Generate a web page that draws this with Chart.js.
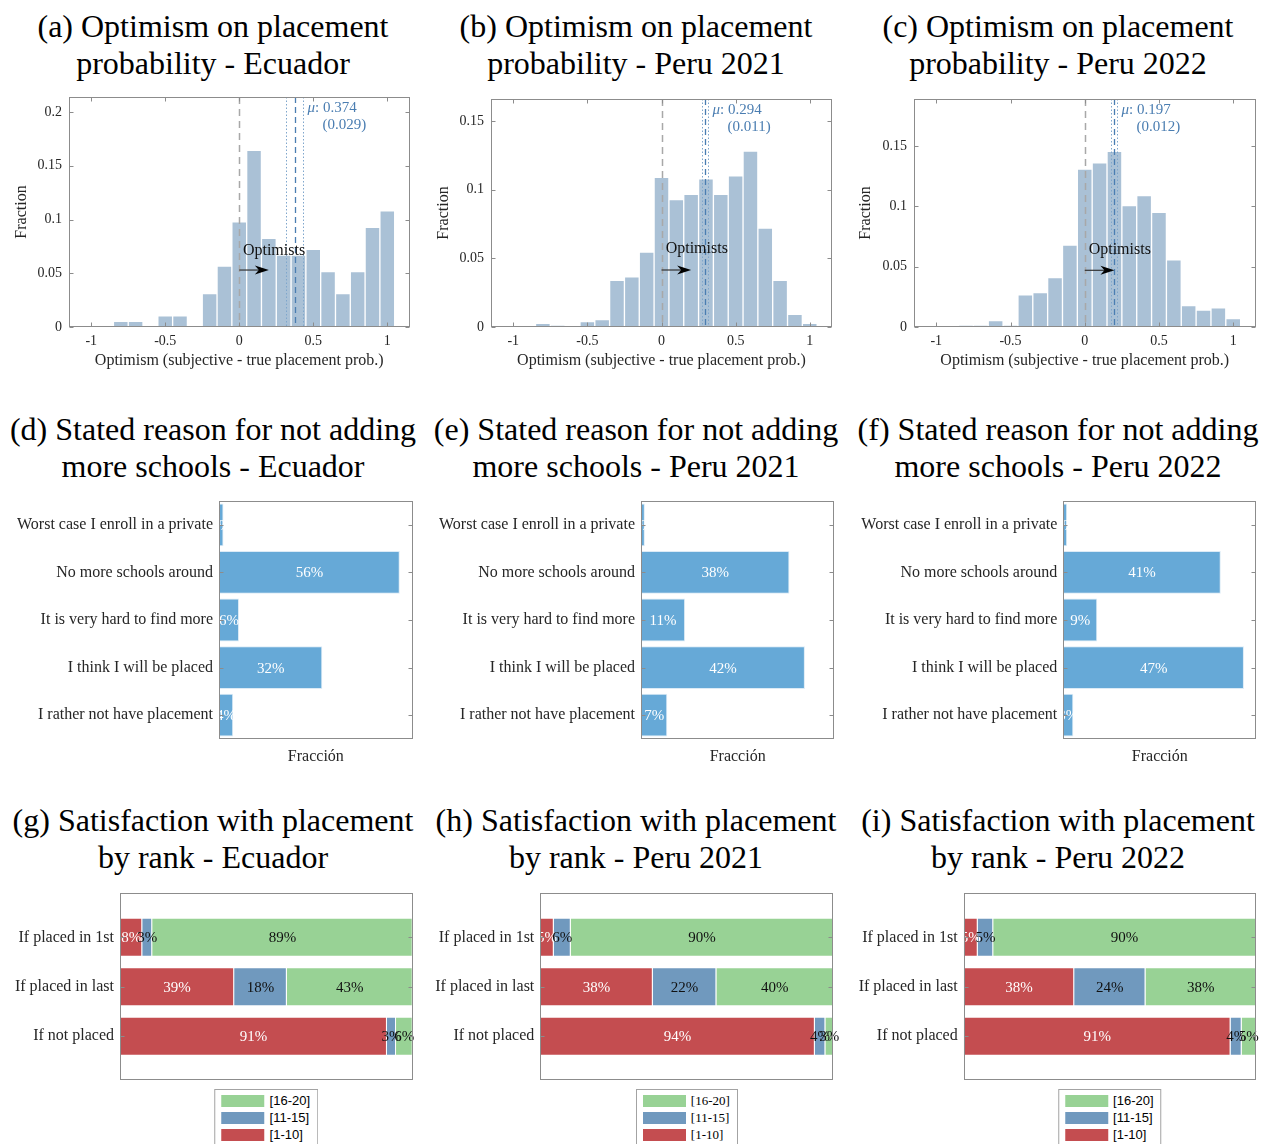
<!DOCTYPE html>
<html>
<head>
<meta charset="utf-8">
<script src="https://cdn.jsdelivr.net/npm/chart.js@4.4.1/dist/chart.umd.min.js"></script>
<style>
  body { margin: 0; width: 1265px; height: 1144px; overflow: hidden; background: #fff; position: relative;
         font-family: 'Liberation Serif', serif; }
  .title { position: absolute; width: 422px; text-align: center; font-size: 32px; line-height: 36.5px;
           color: #000; white-space: nowrap; }
  .panel { position: absolute; }
  .panel canvas { display: block; }
  .legend { position: absolute; top: 209px; border: 1px solid #a3a3a3; background: #fff;
            padding: 2px 7px 4px 6px; font-size: 13px; color: #000; transform: translateX(-50%); }
  .legend .row { display: flex; align-items: center; height: 17px; }
  .legend .sw { width: 43px; height: 12px; margin-right: 5px; }
</style>
</head>
<body>
<script>
// ---- data ----
const binCenters = [-1.0, -0.9, -0.8, -0.7, -0.6, -0.5, -0.4, -0.3, -0.2, -0.1, 0.0,
                    0.1, 0.2, 0.3, 0.4, 0.5, 0.6, 0.7, 0.8, 0.9, 1.0];
const fracEcuador = [0, 0, 0.0053, 0.0053, 0, 0.0103, 0.0103, 0, 0.031, 0.0567, 0.0979,
                     0.1644, 0.0825, 0.067, 0.067, 0.0722, 0.0515, 0.031, 0.0515, 0.0928, 0.1082];
const fracPeru2021 = [0, 0, 0.0027, 0.0012, 0, 0.0039, 0.0054, 0.034, 0.0366, 0.0546, 0.109,
                      0.0927, 0.0966, 0.1078, 0.0966, 0.110, 0.128, 0.072, 0.034, 0.0093, 0.0027];
const fracPeru2022 = [0, 0, 0.0014, 0.0014, 0.0053, 0.0014, 0.0267, 0.0286, 0.041, 0.068, 0.131,
                      0.136, 0.1456, 0.1006, 0.109, 0.095, 0.0556, 0.0178, 0.014, 0.0158, 0.0069];
const meanOptimism = [0.374, 0.294, 0.197];
const seOptimism = [0.029, 0.011, 0.012];
const histXTicks = [-1, -0.5, 0, 0.5, 1];
const histYTicks = [[0, 0.05, 0.1, 0.15, 0.2], [0, 0.05, 0.1, 0.15], [0, 0.05, 0.1, 0.15]];
const histYMax = [0.214, 0.166, 0.189];

const reasonLabels = ['Worst case I enroll in a private', 'No more schools around',
                      'It is very hard to find more', 'I think I will be placed', 'I rather not have placement'];
const reasonEcuador = [0.014, 0.56, 0.062, 0.32, 0.044];
const reasonPeru2021 = [0.010, 0.384, 0.114, 0.424, 0.068];
const reasonPeru2022 = [0.010, 0.408, 0.088, 0.468, 0.026];
const reasonXMax = [0.6, 0.5, 0.5];

const rankLabels = ['If placed in 1st', 'If placed in last', 'If not placed'];
const rankGroups = ['[1-10]', '[11-15]', '[16-20]'];
const sat1to10 = [[0.076, 0.39, 0.912], [0.046, 0.384, 0.937], [0.048, 0.378, 0.913]];
const sat11to15 = [[0.034, 0.18, 0.031], [0.058, 0.217, 0.036], [0.053, 0.244, 0.038]];
const sat16to20 = [[0.89, 0.43, 0.057], [0.896, 0.399, 0.027], [0.899, 0.378, 0.049]];

const places = ['Ecuador', 'Peru 2021', 'Peru 2022'];

// ---- layout ----
Chart.defaults.font.family = "'Liberation Serif', serif";
Chart.defaults.color = '#262626';
Chart.defaults.animation = false;

const COLS = [0, 422, 844];
const titleCenters = [213, 636, 1058];

function addTitle(col, top, l1, l2) {
  const d = document.createElement('div');
  d.className = 'title';
  d.style.left = (titleCenters[col] - 211) + 'px';
  d.style.top = top + 'px';
  d.innerHTML = l1 + '<br>' + l2;
  document.body.appendChild(d);
}

function addPanel(col, top, h) {
  const div = document.createElement('div');
  div.className = 'panel';
  div.style.left = COLS[col] + 'px';
  div.style.top = top + 'px';
  const c = document.createElement('canvas');
  c.width = 422; c.height = h;
  div.appendChild(c);
  document.body.appendChild(div);
  return { div, canvas: c };
}

// fixed axis sizes so the plot boxes line up with the figure
const fixWidth = w => s => { s.width = w; s.paddingTop = 0; s.paddingBottom = 0; };
const fixHeight = h => s => { s.height = h; s.paddingLeft = 0; s.paddingRight = 0; };

// box round the axes with inward ticks
const frame = {
  id: 'frame',
  afterDraw(chart, args, opts) {
    const { ctx, chartArea: a } = chart;
    const L = 4;
    ctx.save();
    ctx.strokeStyle = '#8c8c8c';
    ctx.lineWidth = 1;
    const l = Math.round(a.left) + 0.5, r = Math.round(a.right) - 0.5;
    const t = Math.round(a.top) + 0.5, b = Math.round(a.bottom) - 0.5;
    ctx.strokeRect(l, t, r - l, b - t);
    const seg = (x1, y1, x2, y2) => { ctx.beginPath(); ctx.moveTo(x1, y1); ctx.lineTo(x2, y2); ctx.stroke(); };
    if (opts.xTicks) {
      const s = chart.scales.x;
      s.ticks.forEach((tk, i) => {
        const p = Math.round(s.getPixelForTick(i)) + 0.5;
        seg(p, b, p, b - L); seg(p, t, p, t + L);
      });
    }
    if (opts.yTicks) {
      const s = chart.scales.y;
      s.ticks.forEach((tk, i) => {
        const p = Math.round(s.getPixelForTick(i)) + 0.5;
        seg(l, p, l + L, p); seg(r, p, r - L, p);
      });
    }
    ctx.restore();
  }
};

// mean lines, mu text and the "Optimists" arrow
const histNotes = {
  id: 'histNotes',
  afterDatasetsDraw(chart, args, o) {
    const { ctx, chartArea: a, scales: { x, y } } = chart;
    const vline = (v, color, dash, w) => {
      const p = Math.round(x.getPixelForValue(v)) + 0.5;
      ctx.save();
      ctx.strokeStyle = color; ctx.lineWidth = w; ctx.setLineDash(dash);
      ctx.beginPath(); ctx.moveTo(p, a.top); ctx.lineTo(p, a.bottom); ctx.stroke();
      ctx.restore();
      return p;
    };
    vline(0, '#a8a8a8', [7, 5], 1.5);
    const lo = o.mean - 1.96 * o.se, hi = o.mean + 1.96 * o.se;
    vline(lo, '#7fa6cc', [1.5, 2], 1);
    const pHi = vline(hi, '#7fa6cc', [1.5, 2], 1);
    vline(o.mean, '#4a7db1', [6, 4], 1.3);

    ctx.save();
    ctx.fillStyle = '#4a7db1';
    ctx.textBaseline = 'middle';
    ctx.textAlign = 'left';
    const tx = pHi + 4;
    ctx.font = "italic 15px 'Liberation Serif', serif";
    ctx.fillText('\u03bc', tx, a.top + 11);
    const w = ctx.measureText('\u03bc').width;
    ctx.font = "15px 'Liberation Serif', serif";
    ctx.fillText(': ' + o.mean.toFixed(3), tx + w, a.top + 11);
    ctx.fillText('(' + o.se.toFixed(3) + ')', tx + 15, a.top + 28);

    // Optimists
    ctx.fillStyle = '#111';
    ctx.textAlign = 'center';
    ctx.font = "16px 'Liberation Serif', serif";
    ctx.fillText('Optimists', x.getPixelForValue(o.textX), y.getPixelForValue(o.textY));
    const ax0 = x.getPixelForValue(0), ax1 = x.getPixelForValue(0.2), ay = y.getPixelForValue(o.arrowY);
    ctx.strokeStyle = '#333'; ctx.lineWidth = 1.2;
    ctx.beginPath(); ctx.moveTo(ax0, ay); ctx.lineTo(ax1 - 8, ay); ctx.stroke();
    ctx.fillStyle = '#000';
    ctx.beginPath();
    ctx.moveTo(ax1, ay);
    ctx.lineTo(ax1 - 14, ay - 4.5);
    ctx.lineTo(ax1 - 10, ay);
    ctx.lineTo(ax1 - 14, ay + 4.5);
    ctx.closePath(); ctx.fill();
    ctx.restore();
  }
};

// percentage labels inside bars
const barLabels = {
  id: 'barLabels',
  afterDatasetsDraw(chart, args, o) {
    const { ctx } = chart;
    ctx.save();
    ctx.font = "15px 'Liberation Serif', serif";
    ctx.textAlign = 'center';
    ctx.textBaseline = 'middle';
    chart.data.datasets.forEach((ds, di) => {
      chart.getDatasetMeta(di).data.forEach((el, i) => {
        const raw = ds.data[i];
        const v = typeof raw === 'object' ? raw.x : raw;
        const { x, y, base } = el.getProps(['x', 'y', 'base'], true);
        ctx.fillStyle = o.colors[di];
        ctx.fillText(Math.round(v * 100) + '%', (x + base) / 2, y + 1);
      });
    });
    ctx.restore();
  }
};

// boxed legend in one column below the plot
const htmlLegend = {
  id: 'htmlLegend',
  afterUpdate(chart, args, o) {
    const box = o.box;
    box.innerHTML = '';
    box.style.fontFamily = o.family;
    const items = chart.options.plugins.legend.labels.generateLabels(chart).reverse();
    items.forEach(it => {
      const row = document.createElement('div');
      row.className = 'row';
      const sw = document.createElement('span');
      sw.className = 'sw';
      sw.style.background = it.fillStyle;
      const tx = document.createElement('span');
      tx.textContent = it.text;
      row.appendChild(sw); row.appendChild(tx);
      box.appendChild(row);
    });
    box.style.left = ((chart.chartArea.left + chart.chartArea.right) / 2) + 'px';
  }
};

const noGrid = { display: false, drawTicks: false };

// ---- row 1: optimism histograms ----
const histFrac = [fracEcuador, fracPeru2021, fracPeru2022];
const histGeom = [{ top: 7, left: 69, right: 12.5 }, { top: 9, left: 69, right: 12 }, { top: 9, left: 70, right: 10.5 }];
const optimistsPos = [{ textX: 0.235, textY: 0.071, arrowY: 0.053 },
                      { textX: 0.238, textY: 0.057, arrowY: 0.0415 },
                      { textX: 0.236, textY: 0.064, arrowY: 0.047 }];
const letters = ['abc', 'def', 'ghi'];

for (let k = 0; k < 3; k++) {
  addTitle(k, 8, '(' + letters[0][k] + ') Optimism on placement', 'probability - ' + places[k]);
  const g = histGeom[k];
  const p = addPanel(k, 90, 285);
  new Chart(p.canvas, {
    type: 'bar',
    data: {
      datasets: [{
        data: binCenters.map((c, i) => ({ x: c, y: histFrac[k][i] })),
        backgroundColor: '#aac1d6',
        borderColor: 'rgba(255,255,255,0.45)',
        borderWidth: 1,
        barPercentage: 1,
        categoryPercentage: 1
      }]
    },
    options: {
      responsive: false,
      layout: { padding: { top: g.top, right: g.right, left: 0, bottom: 0 } },
      plugins: {
        legend: { display: false },
        tooltip: { enabled: false },
        frame: { xTicks: true, yTicks: true },
        histNotes: Object.assign({ mean: meanOptimism[k], se: seOptimism[k] }, optimistsPos[k])
      },
      scales: {
        x: {
          type: 'linear', offset: false, min: -1.15, max: 1.15,
          grid: noGrid, border: { display: false },
          afterBuildTicks: s => { s.ticks = histXTicks.map(v => ({ value: v })); },
          afterFit: fixHeight(48),
          ticks: { padding: 6, maxRotation: 0, font: { size: 14 }, callback: v => String(v) },
          title: { display: true, text: 'Optimism (subjective - true placement prob.)',
                   font: { size: 16 }, padding: { top: 0, bottom: 5 } }
        },
        y: {
          min: 0, max: histYMax[k],
          grid: noGrid, border: { display: false },
          afterBuildTicks: s => { s.ticks = histYTicks[k].map(v => ({ value: v })); },
          afterFit: fixWidth(g.left),
          ticks: { padding: 7, font: { size: 14 }, callback: v => String(v) },
          title: { display: true, text: 'Fraction', font: { size: 16 }, padding: { top: 12, bottom: 0 } }
        }
      }
    },
    plugins: [frame, histNotes]
  });
}

// ---- row 2: stated reasons ----
const reasonVals = [reasonEcuador, reasonPeru2021, reasonPeru2022];
const reasonGeom = [{ left: 219, right: 9.3 }, { left: 219, right: 9.7 }, { left: 219.3, right: 9.7 }];

for (let k = 0; k < 3; k++) {
  addTitle(k, 411, '(' + letters[1][k] + ') Stated reason for not adding', 'more schools - ' + places[k]);
  const g = reasonGeom[k];
  const p = addPanel(k, 490, 280);
  new Chart(p.canvas, {
    type: 'bar',
    data: {
      labels: reasonLabels,
      datasets: [{
        data: reasonVals[k],
        backgroundColor: '#66a9d7',
        borderColor: '#dcebf6',
        borderWidth: 1,
        barPercentage: 0.9,
        categoryPercentage: 1
      }]
    },
    options: {
      indexAxis: 'y',
      responsive: false,
      layout: { padding: { top: 11, right: g.right, left: 0, bottom: 0 } },
      plugins: {
        legend: { display: false },
        tooltip: { enabled: false },
        frame: { xTicks: false, yTicks: true },
        barLabels: { colors: ['#ffffff'] }
      },
      scales: {
        x: {
          min: 0, max: reasonXMax[k],
          grid: noGrid, border: { display: false },
          ticks: { display: false },
          afterFit: fixHeight(31),
          title: { display: true, text: 'Fracción', font: { size: 16 }, padding: { top: 0, bottom: 4 } }
        },
        y: {
          grid: noGrid, border: { display: false },
          afterFit: fixWidth(g.left),
          ticks: { padding: 6, autoSkip: false, font: { size: 16 } }
        }
      }
    },
    plugins: [frame, barLabels]
  });
}

// ---- row 3: satisfaction by rank ----
const satGeom = [{ left: 120, right: 9.3 }, { left: 118.3, right: 10.7 }, { left: 119.7, right: 10 }];
const satColors = ['#c44d50', '#7099be', '#98d295'];
const legendFonts = ["'Liberation Sans', sans-serif", "'Liberation Serif', serif", "'Liberation Sans', sans-serif"];

for (let k = 0; k < 3; k++) {
  addTitle(k, 802, '(' + letters[2][k] + ') Satisfaction with placement', 'by rank - ' + places[k]);
  const g = satGeom[k];
  const p = addPanel(k, 880, 264);
  const lg = document.createElement('div');
  lg.className = 'legend';
  p.div.appendChild(lg);
  const series = [sat1to10[k], sat11to15[k], sat16to20[k]];
  new Chart(p.canvas, {
    type: 'bar',
    data: {
      datasets: series.map((vals, j) => ({
        label: rankGroups[j],
        data: vals.map((v, i) => ({ x: v, y: i + 1 })),
        backgroundColor: satColors[j],
        borderColor: 'rgba(255,255,255,0.35)',
        borderWidth: 1,
        stack: 'all',
        barPercentage: 0.79,
        categoryPercentage: 1
      }))
    },
    options: {
      indexAxis: 'y',
      responsive: false,
      layout: { padding: { top: 13.3, right: g.right, left: 0, bottom: 63.7 } },
      plugins: {
        legend: { display: false },
        tooltip: { enabled: false },
        frame: { xTicks: false, yTicks: true },
        barLabels: { colors: ['#ffffff', '#111111', '#111111'] },
        htmlLegend: { box: lg, family: legendFonts[k] }
      },
      scales: {
        x: { min: 0, max: 1, stacked: true, display: false },
        y: {
          type: 'linear', min: 0.11, max: 3.89, reverse: true, offset: false,
          grid: noGrid, border: { display: false },
          afterBuildTicks: s => { s.ticks = rankLabels.map((t, i) => ({ value: i + 1 })); },
          afterFit: fixWidth(g.left),
          ticks: { padding: 6, autoSkip: false, font: { size: 16 },
                   callback: v => rankLabels[Math.round(v) - 1] }
        }
      }
    },
    plugins: [frame, barLabels, htmlLegend]
  });
}
</script>
</body>
</html>
